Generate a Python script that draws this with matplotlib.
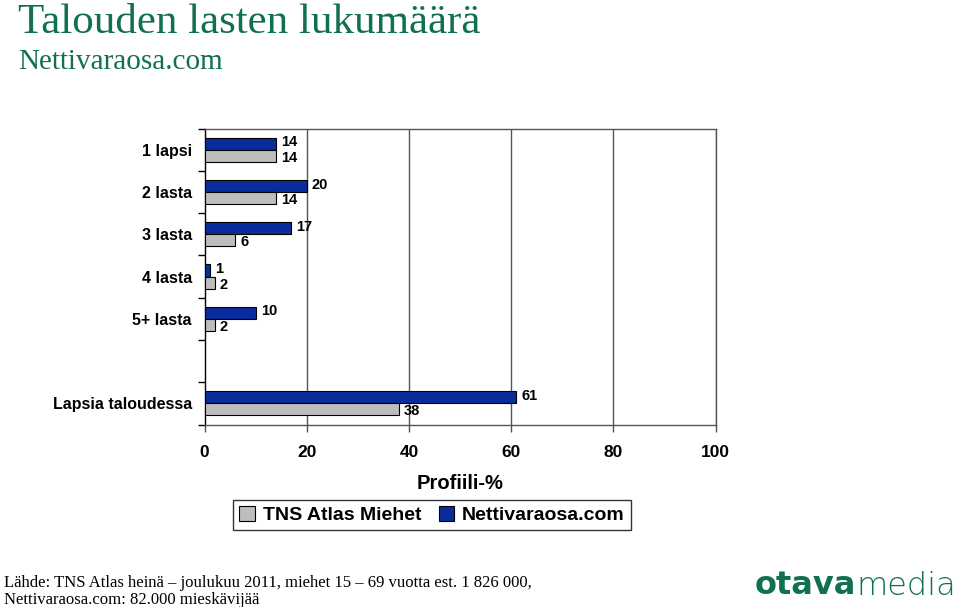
import numpy as np
import matplotlib
matplotlib.use("Agg")
import matplotlib.pyplot as plt
from matplotlib.patches import Patch

# DATA
categories = ["1 lapsi", "2 lasta", "3 lasta", "4 lasta", "5+ lasta", "", "Lapsia taloudessa"]
tns = [14, 14, 6, 2, 2, None, 38]          # TNS Atlas Miehet
netti = [14, 20, 17, 1, 10, None, 61]      # Nettivaraosa.com
xticks = [0, 20, 40, 60, 80, 100]
xticklabels = ["0", "20", "40", "60", "80", "100"]

# COLORES
blue = "#0a2d9e"
gray = "#bdbdbd"
green = "#11704f"
frame = "#555555"

plt.rcParams["font.family"] = ["Liberation Sans", "DejaVu Sans"]

fig = plt.figure(figsize=(9.6, 6.07), dpi=100)
W, H = 960.0, 607.0
ax = fig.add_axes([204.5 / W, 1 - 424.5 / H, 511 / W, 296 / H])

y = np.arange(len(categories))
h = 0.285
for i in range(len(categories)):
    if netti[i] is None:
        continue
    ax.barh(y[i] - h / 2, netti[i], height=h, color=blue, edgecolor="black", linewidth=0.8, zorder=3)
    ax.barh(y[i] + h / 2, tns[i], height=h, color=gray, edgecolor="black", linewidth=0.8, zorder=3)
    ax.text(netti[i] + 1.0, y[i] - h / 2 - 0.03, str(netti[i]), va="center", ha="left",
            fontsize=10.5, fontweight="bold", color="black", zorder=4)
    ax.text(tns[i] + 1.0, y[i] + h / 2 + 0.05, str(tns[i]), va="center", ha="left",
            fontsize=10.5, fontweight="bold", color="black", zorder=4)

ax.set_xlim(0, 100)
ax.set_ylim(len(categories) - 0.5, -0.5)

# rejilla vertical
for xv in xticks[1:]:
    ax.axvline(xv, color=frame, linewidth=1.0, zorder=1)

ax.spines["left"].set_color("black")
ax.spines["bottom"].set_color(frame)
ax.spines["top"].set_color(frame)
ax.spines["right"].set_color(frame)
for s in ax.spines.values():
    s.set_linewidth(1.0)

ax.set_yticks(np.arange(len(categories) + 1) - 0.5, minor=False)
ax.set_yticklabels([])
ax.set_yticks(y, minor=True)
ax.set_yticklabels(categories, minor=True, fontsize=11.5, fontweight="bold")
ax.tick_params(axis="y", which="minor", length=0, pad=9)
ax.tick_params(axis="y", which="major", length=5, width=1, color="black")

ax.set_xticks(xticks)
ax.set_xticklabels(xticklabels, fontsize=12.5, fontweight="bold")
ax.tick_params(axis="x", length=5, width=1, color=frame, pad=10)

ax.set_xlabel("Profiili-%", fontsize=14.5, fontweight="bold", labelpad=10)

handles = [Patch(facecolor=gray, edgecolor="black", linewidth=0.8, label="TNS Atlas Miehet"),
           Patch(facecolor=blue, edgecolor="black", linewidth=0.8, label="Nettivaraosa.com")]
leg = fig.legend(handles=handles, loc="center", bbox_to_anchor=(432 / W, 1 - 515 / H), ncol=2,
                 frameon=True, fancybox=False, edgecolor="black", handlelength=0.8, handleheight=0.8,
                 handletextpad=0.4, columnspacing=0.9, borderpad=0.3,
                 prop={"size": 14, "weight": "bold"})
leg.get_frame().set_linewidth(1.0)

# TITULOS
fig.text(18 / W, 1 - 23 / H, "Talouden lasten lukumäärä", fontsize=31, color=green,
         family="Liberation Serif", va="center", ha="left")
fig.text(18 / W, 1 - 62 / H, "Nettivaraosa.com", fontsize=21, color=green,
         family="Liberation Serif", va="center", ha="left")

fig.text(4 / W, 1 - 583 / H, "Lähde: TNS Atlas heinä – joulukuu 2011, miehet 15 – 69 vuotta est. 1 826 000,",
         fontsize=12, family="Liberation Serif", va="center", ha="left")
fig.text(4 / W, 1 - 600 / H, "Nettivaraosa.com: 82.000 mieskävijää",
         fontsize=12, family="Liberation Serif", va="center", ha="left")

# logo
t1 = fig.text(755 / W, 1 - 586 / H, "otava", fontsize=23, fontweight="bold", color=green,
              va="center", ha="left", family="DejaVu Sans")
fig.canvas.draw()
bb = t1.get_window_extent()
fig.text(bb.x1 / W, 1 - 586 / H, "media", fontsize=23, fontweight="light", color=green,
         va="center", ha="left", family="DejaVu Sans")

plt.savefig("out.png", dpi=100)
